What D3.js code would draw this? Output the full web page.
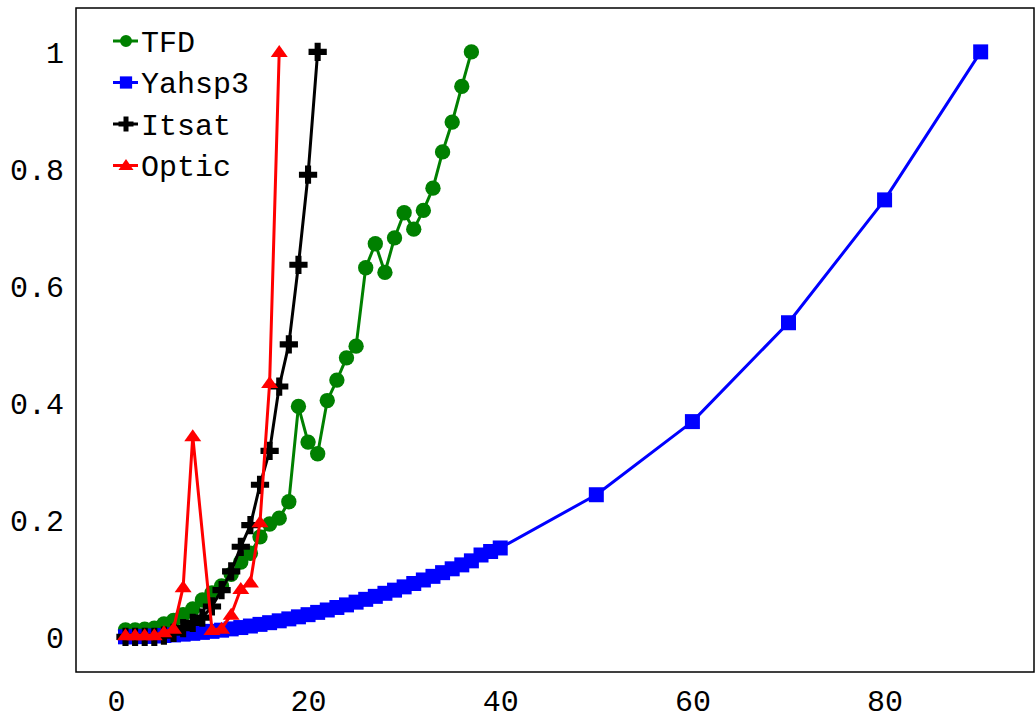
<!DOCTYPE html>
<html>
<head>
<meta charset="utf-8">
<script src="https://cdn.jsdelivr.net/npm/d3@7/dist/d3.min.js"></script>
<style>
  html, body { margin: 0; padding: 0; background: #fff; }
  svg { display: block; }
  text { font-family: "Liberation Mono", "DejaVu Sans Mono", monospace; }
</style>
</head>
<body>
<svg id="chart" width="1035" height="715"></svg>
<script>
// ---------- data ----------
const tfdX = d3.range(1, 38);
const tfdY = [0.012, 0.012, 0.013, 0.015, 0.022, 0.028, 0.038, 0.048, 0.063, 0.075,
              0.087, 0.107, 0.128, 0.143, 0.171, 0.193, 0.203, 0.231, 0.394, 0.333,
              0.313, 0.404, 0.439, 0.477, 0.497, 0.631, 0.672, 0.623, 0.682, 0.725,
              0.697, 0.729, 0.767, 0.829, 0.880, 0.941, 1.000];

const yahspX = d3.range(1, 41).concat([50, 60, 70, 80, 90]);
const yahspY = [0.0001, 0.0004, 0.0009, 0.0015, 0.0024, 0.0034, 0.0047, 0.0061, 0.0077, 0.0095,
                0.0115, 0.0137, 0.0160, 0.0186, 0.0214, 0.0243, 0.0275, 0.0308, 0.0343, 0.0380,
                0.0419, 0.0460, 0.0503, 0.0547, 0.0594, 0.0642, 0.0693, 0.0745, 0.0799, 0.0855,
                0.0913, 0.0973, 0.1035, 0.1098, 0.1164, 0.1231, 0.1300, 0.1400, 0.1460, 0.1520,
                0.243, 0.368, 0.537, 0.747, 1.000];

const itsatX = d3.range(1, 22);
const itsatY = [0.000, 0.000, 0.000, 0.000, 0.002, 0.007, 0.015, 0.024, 0.033, 0.052,
                0.080, 0.112, 0.154, 0.191, 0.260, 0.318, 0.428, 0.500, 0.636, 0.790, 1.000];

const opticX = d3.range(1, 18);
const opticY = [0.003, 0.003, 0.003, 0.003, 0.008, 0.014, 0.085, 0.343, null, 0.012,
                0.014, 0.038, 0.082, 0.093, 0.196, 0.434, 1.000];

const seriesNames = ["TFD", "Yahsp3", "Itsat", "Optic"];
const seriesColors = ["#008000", "#0000ff", "#000000", "#ff0000"];
const xTicks = [0, 20, 40, 60, 80];
const yTicks = [0, 0.2, 0.4, 0.6, 0.8, 1];

// ---------- layout ----------
const svg = d3.select("#chart");
const box = { left: 76, top: 8, right: 1034, bottom: 672 };
const FS = 30;

const x = d3.scaleLinear().domain([-4.15, 95.55]).range([box.left, box.right]);
const y = d3.scaleLinear().domain([-0.06, 1.075]).range([box.bottom, box.top]);

// frame
svg.append("rect")
  .attr("x", box.left).attr("y", box.top)
  .attr("width", box.right - box.left).attr("height", box.bottom - box.top)
  .attr("fill", "none").attr("stroke", "#000").attr("stroke-width", 1.5);

// axes (labels only)
const xAxis = svg.append("g").attr("transform", `translate(0,${box.bottom})`)
  .call(d3.axisBottom(x).tickValues(xTicks).tickSize(0).tickPadding(18).tickFormat(d3.format("d")));
const yAxis = svg.append("g").attr("transform", `translate(${box.left},0)`)
  .call(d3.axisLeft(y).tickValues(yTicks).tickSize(0).tickPadding(12).tickFormat(d => String(d)));
[xAxis, yAxis].forEach(g => {
  g.select(".domain").remove();
  g.selectAll("text").attr("font-family", '"Liberation Mono", monospace')
    .attr("font-size", FS).attr("fill", "#000");
});
yAxis.selectAll("text").attr("dy", "0.35em");
xAxis.selectAll("text").attr("dy", "0.71em");

// markers
const triPath = (w, h) => `M0,${-h * 0.58}L${w / 2},${h * 0.42}L${-w / 2},${h * 0.42}Z`;
const markerFns = [
  s => d3.symbol(d3.symbolCircle, s ? 113 : 185)(),
  s => d3.symbol(d3.symbolSquare, s ? 150 : 225)(),
  s => d3.symbol(d3.symbolCross, s ? 125 : 185)(),
  s => s ? triPath(15, 11) : triPath(17, 12)
];

const series = [
  { xs: tfdX, ys: tfdY },
  { xs: yahspX, ys: yahspY },
  { xs: itsatX, ys: itsatY },
  { xs: opticX, ys: opticY }
];

const line = d3.line().x(d => x(d[0])).y(d => y(d[1]));

series.forEach((s, i) => {
  const pts = s.xs.map((xv, j) => [xv, s.ys[j]]).filter(d => d[1] !== null);
  const g = svg.append("g");
  g.append("path").datum(pts).attr("d", line)
    .attr("fill", "none").attr("stroke", seriesColors[i]).attr("stroke-width", 3)
    .attr("stroke-linejoin", "round");
  g.selectAll("path.m").data(pts).join("path").attr("class", "m")
    .attr("d", markerFns[i](false))
    .attr("transform", d => `translate(${x(d[0])},${y(d[1])})`)
    .attr("fill", seriesColors[i]);
});

// legend
const legend = svg.append("g");
seriesNames.forEach((name, i) => {
  const ry = 41 + i * 41.5;
  const g = legend.append("g").attr("transform", `translate(0,${ry})`);
  g.append("line").attr("x1", 113).attr("x2", 138).attr("y1", 0).attr("y2", 0)
    .attr("stroke", seriesColors[i]).attr("stroke-width", 3);
  g.append("path").attr("d", markerFns[i](true)).attr("transform", "translate(126,0)")
    .attr("fill", seriesColors[i]);
  g.append("text").attr("x", 141).attr("y", 0).attr("dy", "0.35em")
    .attr("font-size", FS).attr("fill", "#000").text(name);
});
</script>
</body>
</html>
